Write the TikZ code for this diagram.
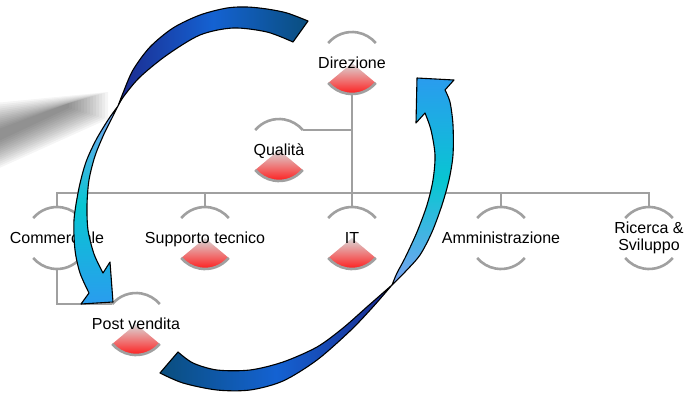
\documentclass[tikz,border=0pt]{standalone}
\usepackage{fontspec}
\setmainfont{Liberation Sans}
\usetikzlibrary{calc}

\definecolor{linegray}{HTML}{A0A0A0}
\definecolor{wedgered}{HTML}{FF1414}
\definecolor{wedgemid}{HTML}{EE7878}
\definecolor{wedgetop}{HTML}{D8D8D8}
\definecolor{arrnavy}{HTML}{1C2A8E}
\definecolor{arrblue}{HTML}{1462D2}
\definecolor{arrteal}{HTML}{0A4E7E}
\definecolor{arrlight}{HTML}{7AA2F2}
\definecolor{arrcyan}{HTML}{08C6D2}
\definecolor{arrsky}{HTML}{2A9CEE}

% one organisational unit: open circle (top arc) around a centre point
\newcommand\unitframe[2]{%
  \coordinate (#1) at (#2);
  \coordinate (#1-top) at ($(#1)+(0,-31)$);
  \coordinate (#1-bot) at ($(#1)+(0,31)$);
  \coordinate (#1-tl) at ($(#1)+(220:31)$);
  \coordinate (#1-tr) at ($(#1)+(320:31)$);
  \coordinate (#1-bl) at ($(#1)+(140:31)$);
  \coordinate (#1-br) at ($(#1)+(40:31)$);
  \draw[conn] (#1-tl) arc[start angle=220,end angle=320,radius=31];
}
% lower half: red wedge or plain arc
\newcommand\unitwedge[1]{%
  \shade[top color=wedgetop, bottom color=wedgered, middle color=wedgemid]
    (#1) -- (#1-br) arc[start angle=40,end angle=140,radius=31] -- cycle;
  \draw[conn] (#1-br) arc[start angle=40,end angle=140,radius=31];
}
\newcommand\unitarc[1]{%
  \draw[conn] (#1-br) arc[start angle=40,end angle=140,radius=31];
}

\begin{document}
\begin{tikzpicture}[x=1pt,y=-1pt,
  conn/.style={draw=linegray, line width=2.6pt},
  unitlabel/.style={font=\fontsize{16}{17}\selectfont, inner sep=0pt,
    text height=11.5pt, text depth=0pt},
  twolabel/.style={font=\fontsize{16}{16.5}\selectfont, inner sep=0pt, align=center},
  band/.style={draw=black, line width=1.1pt, line join=round}
]
\useasboundingbox (0,0) rectangle (686,392);

% soft grey smudge on the left, built from stacked translucent layers
\foreach \k in {0,...,13}{
  \fill[black, opacity=0.04]
    (-5,{136-(33-2.1*\k)}) -- ({108-3*\k},{105-(13-0.85*\k)})
    -- ({108-3*\k},{106+(13-0.85*\k)}) -- (-5,{137+(33-2.1*\k)}) -- cycle;
}

% units
\unitframe{dir}{352,63}
\unitframe{qua}{279,150}
\unitframe{com}{57,238}
\unitframe{sup}{205,238}
\unitframe{it}{352,238}
\unitframe{amm}{501,238}
\unitframe{ric}{649,238}
\unitframe{pv}{136,324}

\unitwedge{dir}
\unitwedge{qua}
\unitarc{com}
\unitwedge{sup}
\unitwedge{it}
\unitarc{amm}
\unitarc{ric}
\unitwedge{pv}

% connectors
\coordinate (bus) at (57,193);
\draw[conn] (com-top) -- (com-top |- bus) -- (ric-top |- bus) -- (ric-top);
\draw[conn] (sup-top) -- (sup-top |- bus);
\draw[conn] (amm-top) -- (amm-top |- bus);
\draw[conn] (dir-bot) -- (it-top);
\draw[conn] (qua-tr) -- (qua-tr -| dir);
\draw[conn] (com-bot) -- (com-bot |- pv-tl) -- (pv-tl);

% labels
\node[unitlabel] (dir-l) at (dir) {Direzione};
\node[unitlabel] (qua-l) at (qua) {Qualità};
\node[unitlabel] (com-l) at (com) {Commerciale};
\node[unitlabel] (sup-l) at (sup) {Supporto tecnico};
\node[unitlabel] (it-l) at (it) {IT};
\node[unitlabel] (amm-l) at (amm) {Amministrazione};
\node[twolabel] (ric-l) at (ric) {Ricerca \&\\Sviluppo};
\node[unitlabel] (pv-l) at (pv) {Post vendita};

% left curved arrow: upper ribbon
\shadedraw[band, left color=arrnavy, right color=arrteal, middle color=arrblue]
  (308,21) -- (293,42)
  -- plot[smooth] coordinates {(293,42) (267,32) (233,28) (200,35) (167,55) (140,77) (124,96) (118,106)}
  -- plot[smooth] coordinates {(118,106) (123,93) (133,70) (150,47) (173,28) (200,15) (227,8) (247,7) (267,9) (287,13) (308,21)}
  -- cycle;
% left curved arrow: lower ribbon and head
\shadedraw[band, top color=arrlight, bottom color=arrsky, middle color=arrcyan]
  (118,106)
  -- plot[smooth] coordinates {(118,106) (108,120) (96,140) (86,162) (79,188) (74,220) (75,250) (80,273) (89,293)}
  -- (81,304) -- (113,302) -- (110,262) -- (103,273)
  -- plot[smooth] coordinates {(103,273) (94,254) (88,230) (87,205) (89,180) (95,156) (104,134) (112,118) (118,106)}
  -- cycle;

% right curved arrow: lower ribbon
\shadedraw[band, left color=arrteal, right color=arrnavy, middle color=arrblue]
  (178,352) -- (160,373)
  -- plot[smooth] coordinates {(160,373) (183,383) (217,390) (250,390) (283,381) (317,360) (350,331) (372,308) (392,285)}
  -- plot[smooth] coordinates {(392,285) (368,306) (343,328) (317,347) (283,362) (250,370) (217,370) (193,363) (178,352)}
  -- cycle;
% right curved arrow: upper ribbon and head
\shadedraw[band, top color=arrsky, bottom color=arrlight, middle color=arrcyan]
  (392,285)
  -- plot[smooth] coordinates {(392,285) (405,272) (420,255) (432,232) (442,205) (449,180) (453,155) (453,125) (450,102) (445,90)}
  -- (454,80) -- (417,78) -- (416,123) -- (425,113)
  -- plot[smooth] coordinates {(425,113) (431,130) (435,155) (433,180) (427,205) (417,232) (405,258) (397,273) (392,285)}
  -- cycle;
\end{tikzpicture}
\end{document}
